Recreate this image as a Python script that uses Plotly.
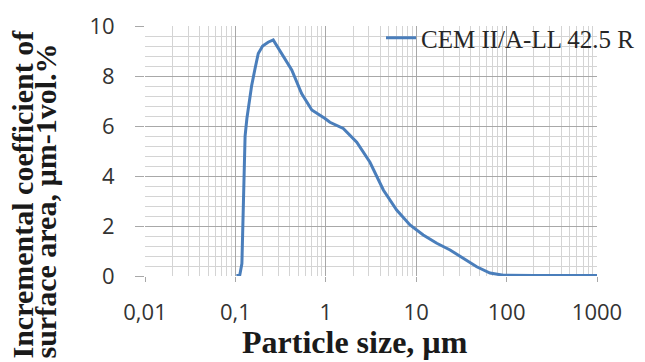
import plotly.graph_objects as go

# Particle size (µm) and incremental coefficient of surface area
particle_size = [0.103, 0.112, 0.118, 0.121, 0.124, 0.128, 0.134, 0.141, 0.151, 0.165,
                 0.179, 0.20, 0.23, 0.262, 0.325, 0.42, 0.54, 0.70, 0.98, 1.11, 1.56,
                 2.2, 3.08, 4.33, 6.08, 8.53, 11.97, 16.9, 23.7, 33.2, 46.7, 65.5, 92,
                 200, 1000]
surface_coef = [0.0, 0.05, 0.5, 2.5, 4.5, 5.6, 6.3, 6.9, 7.6, 8.3,
                8.9, 9.2, 9.35, 9.44, 8.9, 8.24, 7.3, 6.64, 6.3, 6.15, 5.9,
                5.35, 4.55, 3.44, 2.64, 2.04, 1.64, 1.31, 1.04, 0.72, 0.37, 0.12, 0.03,
                0.02, 0.02]
series_name = "CEM II/A-LL 42.5 R"

x_tick_vals = [0.01, 0.1, 1, 10, 100, 1000]
x_tick_text = ["0,01", "0,1", "1", "10", "100", "1000"]
x_minor_vals = [m * d for d in [0.01, 0.1, 1, 10, 100] for m in range(2, 10)]
y_tick_vals = [0, 2, 4, 6, 8, 10]

W, H = 645, 362
L, R, T, B = 145, 48, 26, 86
pw, ph = W - L - R, H - T - B

def px_x(p):
    return (p - L) / pw

def px_y(p):
    return (H - B - p) / ph

fig = go.Figure()
fig.add_trace(go.Scatter(
    x=particle_size, y=surface_coef, mode="lines", name=series_name,
    line=dict(color="#4a7ebb", width=3),
))

serif = "Liberation Serif"
tickfont = dict(family="Open Sans", size=22, color="#333333")

fig.update_layout(
    width=W, height=H,
    margin=dict(l=L, r=R, t=T, b=B, autoexpand=False),
    paper_bgcolor="white", plot_bgcolor="white",
    showlegend=True,
    legend=dict(x=px_x(381), y=px_y(15), xanchor="left", yanchor="top",
                bgcolor="rgba(255,255,255,0)",
                font=dict(family=serif, size=25, color="#262626")),
    xaxis=dict(
        type="log", range=[-2, 3],
        tickvals=x_tick_vals, ticktext=x_tick_text,
        showgrid=True, gridcolor="#a8a8a8", gridwidth=1,
        ticks="outside", ticklen=5, tickcolor="#a8a8a8",
        tickfont=tickfont, ticklabelstandoff=12,
        zeroline=False, showline=False,
        minor=dict(tickvals=x_minor_vals, showgrid=True, gridcolor="#d4d4d4", ticks=""),
    ),
    yaxis=dict(
        range=[0, 10], tickvals=y_tick_vals,
        showgrid=True, gridcolor="#a8a8a8", gridwidth=1,
        ticks="outside", ticklen=9, tickcolor="#a8a8a8",
        tickfont=tickfont, ticklabelstandoff=16,
        zeroline=False, showline=False,
        minor=dict(dtick=0.4, showgrid=True, gridcolor="#d4d4d4", ticks=""),
    ),
    annotations=[
        dict(text="<b>Particle size, µm</b>", xref="paper", yref="paper",
             x=px_x(355), y=px_y(362), xanchor="center", yanchor="bottom",
             showarrow=False, font=dict(family=serif, size=32, color="#1a1a1a")),
        dict(text="<b>Incremental coefficient of</b>", xref="paper", yref="paper",
             x=px_x(22), y=px_y(361), xanchor="center", yanchor="bottom", textangle=-90,
             showarrow=False, font=dict(family=serif, size=30, color="#1a1a1a")),
        dict(text="<b>surface area, µm-1vol.%</b>", xref="paper", yref="paper",
             x=px_x(45), y=px_y(361), xanchor="center", yanchor="bottom", textangle=-90,
             showarrow=False, font=dict(family=serif, size=30, color="#1a1a1a")),
    ],
)

fig.write_html("out.html", config={"displayModeBar": False},
               post_script="document.body.style.margin='0';")
